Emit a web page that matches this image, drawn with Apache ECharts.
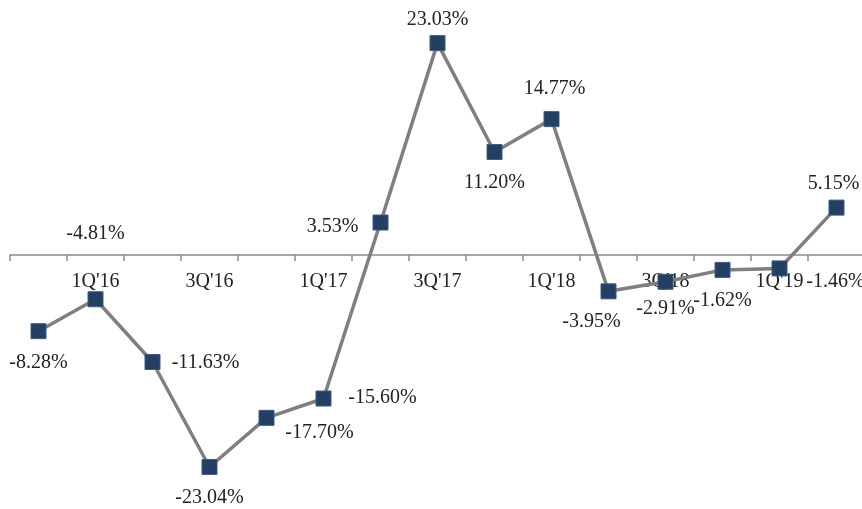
<!DOCTYPE html>
<html>
<head>
<meta charset="utf-8">
<script src="https://cdn.jsdelivr.net/npm/echarts@6/dist/echarts.min.js"></script>
<style>
  html, body { margin: 0; padding: 0; background: #ffffff; }
  #chart { width: 862px; height: 509px; }
</style>
</head>
<body>
<div id="chart"></div>
<script>
// Quarterly growth rates, 4Q'15 – 2Q'19
const quarters = ["4Q'15", "1Q'16", "2Q'16", "3Q'16", "4Q'16", "1Q'17", "2Q'17", "3Q'17",
                  "4Q'17", "1Q'18", "2Q'18", "3Q'18", "4Q'18", "1Q'19", "2Q'19"];
const growth = [-8.28, -4.81, -11.63, -23.04, -17.70, -15.60, 3.53, 23.03,
                11.20, 14.77, -3.95, -2.91, -1.62, -1.46, 5.15];

// Where each value label sits relative to its marker, in pixels [dx, dy]
const labelShift = [[0, 32], [0, -66], [53, 1], [0, 31], [53, 15], [59, -1], [-48, 4], [0, -23],
                    [0, 31], [3, -30], [-17, 30], [0, 27], [0, 31], [56, 13], [-3, -24]];

const FONT = "'Liberation Serif', 'DejaVu Serif', serif";
const AXIS_GREY = '#8a8a8a';

// Plot area: value range -25..25 spread over y = 25..485, so zero sits at y = 255
const PLOT_TOP = 25, PLOT_BOTTOM = 24, ZERO_FROM_BOTTOM = 254;

const chart = echarts.init(document.getElementById('chart'), null, { renderer: 'canvas' });

chart.setOption({
  animation: false,
  backgroundColor: '#ffffff',
  grid: [
    // data grid
    { left: 10, right: -3, top: PLOT_TOP, bottom: PLOT_BOTTOM, containLabel: false, outerBoundsMode: 'none' },
    // upper half ending on the zero line, carries the visible category axis
    { left: 10, right: -3, top: PLOT_TOP, bottom: ZERO_FROM_BOTTOM, containLabel: false, outerBoundsMode: 'none' }
  ],
  xAxis: [
    {
      gridIndex: 0,
      type: 'category',
      data: quarters,
      boundaryGap: true,
      show: false
    },
    {
      gridIndex: 1,
      type: 'category',
      data: quarters,
      boundaryGap: true,
      position: 'bottom',
      axisLine: { show: true, onZero: false, lineStyle: { color: AXIS_GREY, width: 1.5 } },
      axisTick: { show: true, interval: 0, length: 6, lineStyle: { color: AXIS_GREY, width: 1.5 } },
      axisLabel: {
        interval: (i) => i % 2 === 1,
        margin: 17,
        fontFamily: FONT,
        fontSize: 20,
        color: '#222222'
      },
      splitLine: { show: false }
    }
  ],
  yAxis: [
    { gridIndex: 0, type: 'value', min: -25, max: 25, show: false, splitLine: { show: false } },
    { gridIndex: 1, type: 'value', min: 0, max: 1, show: false, splitLine: { show: false } }
  ],
  series: [{
    type: 'line',
    xAxisIndex: 0,
    yAxisIndex: 0,
    data: growth.map((v, i) => ({
      value: v,
      label: { offset: labelShift[i] }
    })),
    lineStyle: { color: '#7f7f7f', width: 3.5 },
    symbol: 'rect',
    symbolSize: 15,
    itemStyle: { color: '#243f62', borderColor: '#3f5b80', borderWidth: 1 },
    label: {
      show: true,
      position: 'inside',
      formatter: (p) => p.value.toFixed(2) + '%',
      fontFamily: FONT,
      fontSize: 20,
      color: '#222222'
    },
    z: 3
  }]
});
</script>
</body>
</html>
